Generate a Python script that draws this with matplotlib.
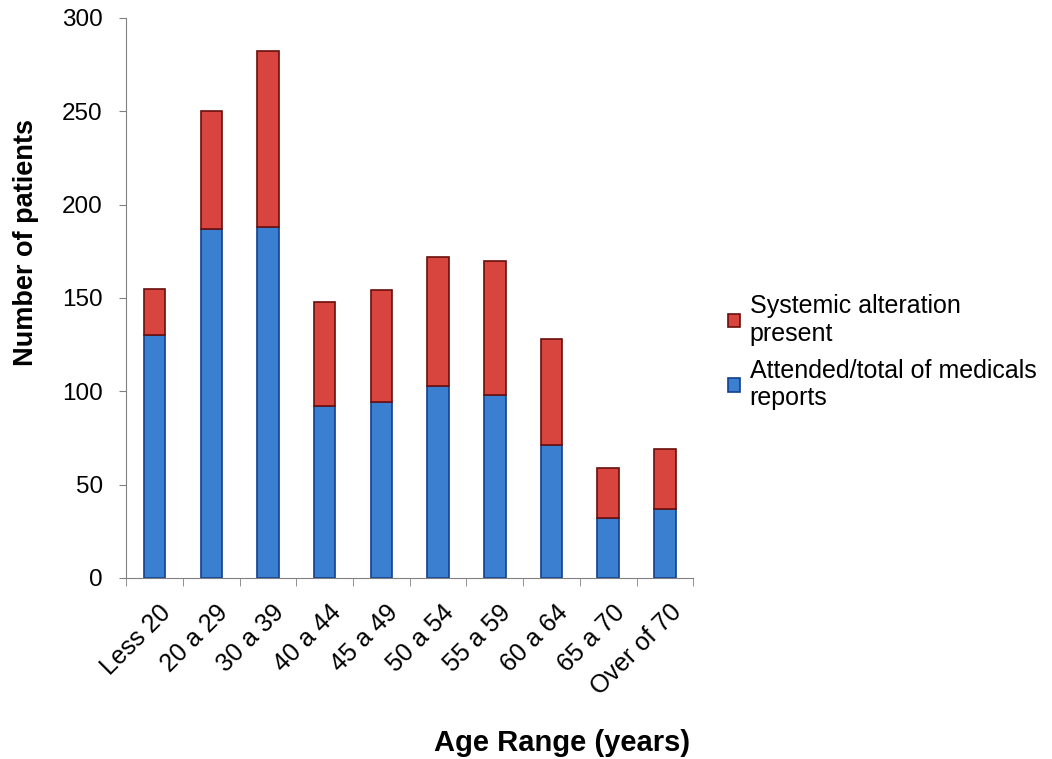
import matplotlib
matplotlib.use('Agg')
import matplotlib.pyplot as plt
from matplotlib.transforms import ScaledTranslation
import numpy as np

plt.rcParams['font.family'] = ['Liberation Sans', 'DejaVu Sans']

categories = ['Less 20', '20 a 29', '30 a 39', '40 a 44', '45 a 49',
              '50 a 54', '55 a 59', '60 a 64', '65 a 70', 'Over of 70']
attended = [130, 187, 188, 92, 94, 103, 98, 71, 32, 37]
totals = [155, 250, 282, 148, 154, 172, 170, 128, 59, 69]
systemic = [t - a for t, a in zip(totals, attended)]

red = '#d8443e'
blue = '#3b7fd0'
grey = '#808080'

fig = plt.figure(figsize=(10.52, 7.59), dpi=100)
ax = fig.add_axes([0.12, 0.2385, 0.539, 0.738])

x = np.arange(len(categories))
b1 = ax.bar(x, attended, width=0.38, color=blue, edgecolor='#123f90', linewidth=1.2,
            label='Attended/total of medicals\nreports')
b2 = ax.bar(x, systemic, width=0.38, bottom=attended, color=red, edgecolor='#6a0f0c',
            linewidth=1.2, label='Systemic alteration\npresent')

ax.set_xlim(-0.5, len(categories) - 0.5)
ax.set_ylim(0, 300)
ax.set_yticks(range(0, 301, 50))
ax.tick_params(axis='y', labelsize=17.5, length=5, color=grey, pad=12)

ax.set_xticks(x)
ax.set_xticklabels(categories, rotation=45, ha='right', rotation_mode='anchor', fontsize=18)
ax.tick_params(axis='x', length=0, pad=16)
ax.set_xticks(np.arange(-0.5, len(categories), 1), minor=True)
ax.tick_params(axis='x', which='minor', length=6, color=grey)
# nudge labels a little right, like the original
shift = ScaledTranslation(4 / 100, 0, fig.dpi_scale_trans)
for lbl in ax.get_xticklabels():
    lbl.set_transform(lbl.get_transform() + shift)

for s in ['top', 'right']:
    ax.spines[s].set_visible(False)
for s in ['left', 'bottom']:
    ax.spines[s].set_color(grey)

fig.text(26 / 1052, 1 - 242 / 759, 'Number of patients', rotation=90,
         ha='center', va='center', fontsize=19.5, fontweight='bold')
fig.text(562 / 1052, 1 - 743 / 759, 'Age Range (years)',
         ha='center', va='center', fontsize=21, fontweight='bold')

fig.legend(handles=[b2, b1], loc='upper left', bbox_to_anchor=(0.671, 0.642),
           frameon=False, fontsize=18, handlelength=0.45, handleheight=0.45,
           handletextpad=0.4, labelspacing=0.5)

fig.savefig('out.png', dpi=100)
